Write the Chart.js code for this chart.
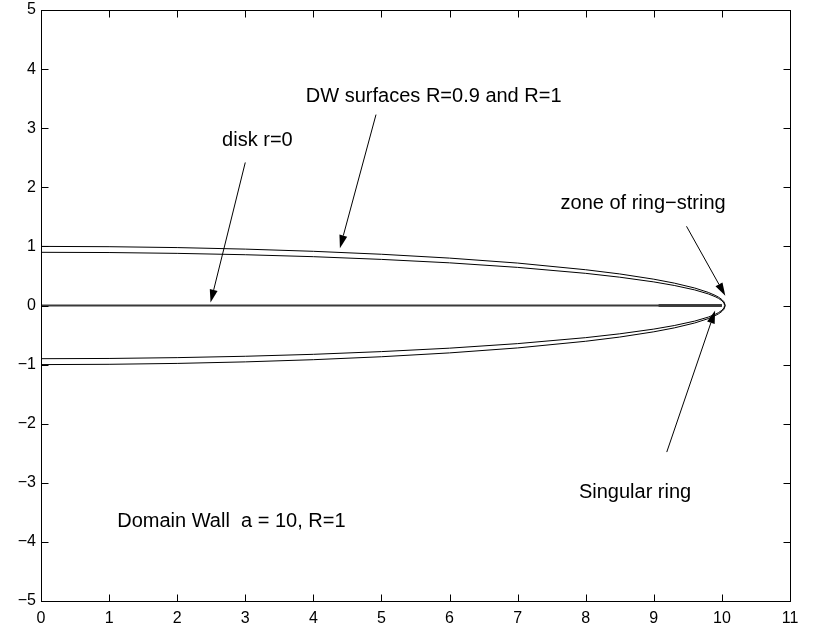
<!DOCTYPE html>
<html>
<head>
<meta charset="utf-8">
<script src="https://cdn.jsdelivr.net/npm/chart.js@4/dist/chart.umd.min.js"></script>
<style>
    html, body { margin: 0; padding: 0; background: #fff; }
    canvas { display: block; }
</style>
</head>
<body>
<canvas id="chart" width="818" height="626"></canvas>
<script>
// surface R=1
const surfaceX1 = [0, 1, 2, 3, 4, 5, 6, 7, 8, 8.5, 9, 9.3, 9.6, 9.8, 9.9, 9.95, 10.0, 10.03, 10.05];
const r1Upper = [1.0, 0.995, 0.98, 0.954, 0.917, 0.867, 0.802, 0.718, 0.605, 0.534, 0.445, 0.379, 0.296, 0.222, 0.172, 0.141, 0.1, 0.063, 0];
const r1Lower = [-1.0, -0.995, -0.98, -0.954, -0.917, -0.867, -0.802, -0.718, -0.605, -0.534, -0.445, -0.379, -0.296, -0.222, -0.172, -0.141, -0.1, -0.063, 0];

// surface R=0.9
const surfaceX09 = [0, 1, 2, 3, 4, 5, 6, 7, 8, 8.5, 9, 9.3, 9.6, 9.8, 9.9, 9.95, 10.0, 10.03, 10.04];
const r09Upper = [0.9, 0.896, 0.882, 0.859, 0.826, 0.78, 0.722, 0.645, 0.544, 0.479, 0.399, 0.339, 0.264, 0.196, 0.15, 0.121, 0.081, 0.041, 0];
const r09Lower = [-0.9, -0.896, -0.882, -0.859, -0.826, -0.78, -0.722, -0.645, -0.544, -0.479, -0.399, -0.339, -0.264, -0.196, -0.15, -0.121, -0.081, -0.041, 0];

// disk r=0 and the singular ring zone
const diskX = [0, 10];
const diskY = [0, 0];
const ringX = [9.07, 10];
const ringY = [0, 0];

// axis ticks
const xTicks = [0, 1, 2, 3, 4, 5, 6, 7, 8, 9, 10, 11];
const yTicks = [-5, -4, -3, -2, -1, 0, 1, 2, 3, 4, 5];

// annotations (data units)
const labelTexts = ["DW surfaces R=0.9 and R=1", "disk r=0", "zone of ring\u2212string", "Singular ring", "Domain Wall  a = 10, R=1"];
const labelX = [3.89, 2.66, 7.63, 7.9, 1.12];
const labelY = [3.54, 2.79, 1.72, -3.17, -3.66];

const arrowFromX = [4.92, 3.0, 9.48, 9.19];
const arrowFromY = [3.23, 2.42, 1.34, -2.48];
const arrowToX = [4.39, 2.49, 10.05, 9.9];
const arrowToY = [0.97, 0.05, 0.165, -0.085];

function toPoints(xs, ys) {
    return xs.map((x, i) => ({ x: x, y: ys[i] }));
}

function lineSet(xs, ys, width, color) {
    return {
        data: toPoints(xs, ys),
        showLine: true,
        borderColor: color,
        borderWidth: width,
        pointRadius: 0,
        tension: 0,
        fill: false
    };
}

const frameAndNotes = {
    id: "frameAndNotes",
    afterDatasetsDraw(chart) {
        const { ctx, chartArea, scales } = chart;
        const xs = scales.x, ys = scales.y;
        const L = Math.round(chartArea.left) + 0.5;
        const R = Math.round(chartArea.right) + 0.5;
        const T = Math.round(chartArea.top) + 0.5;
        const B = Math.round(chartArea.bottom) + 0.5;
        const tick = 7;

        ctx.save();
        ctx.strokeStyle = "#000";
        ctx.lineWidth = 1;
        ctx.strokeRect(L, T, R - L, B - T);

        ctx.beginPath();
        xTicks.forEach(v => {
            const px = Math.round(xs.getPixelForValue(v)) + 0.5;
            ctx.moveTo(px, B); ctx.lineTo(px, B - tick);
            ctx.moveTo(px, T); ctx.lineTo(px, T + tick);
        });
        yTicks.forEach(v => {
            const py = Math.round(ys.getPixelForValue(v)) + 0.5;
            ctx.moveTo(L, py); ctx.lineTo(L + tick, py);
            ctx.moveTo(R, py); ctx.lineTo(R - tick, py);
        });
        ctx.stroke();

        // arrows
        ctx.fillStyle = "#000";
        arrowFromX.forEach((fx, i) => {
            const x0 = xs.getPixelForValue(fx), y0 = ys.getPixelForValue(arrowFromY[i]);
            const x1 = xs.getPixelForValue(arrowToX[i]), y1 = ys.getPixelForValue(arrowToY[i]);
            const ang = Math.atan2(y1 - y0, x1 - x0);
            const head = 13, half = 4;
            const bx = x1 - head * Math.cos(ang), by = y1 - head * Math.sin(ang);
            ctx.beginPath();
            ctx.moveTo(x0, y0);
            ctx.lineTo(bx, by);
            ctx.stroke();
            ctx.beginPath();
            ctx.moveTo(x1, y1);
            ctx.lineTo(bx + half * Math.sin(ang), by - half * Math.cos(ang));
            ctx.lineTo(bx - half * Math.sin(ang), by + half * Math.cos(ang));
            ctx.closePath();
            ctx.fill();
        });

        // text labels
        ctx.font = "20px 'Liberation Sans', Arial, sans-serif";
        ctx.textAlign = "left";
        ctx.textBaseline = "middle";
        labelTexts.forEach((t, i) => {
            ctx.fillText(t, xs.getPixelForValue(labelX[i]), ys.getPixelForValue(labelY[i]));
        });
        ctx.restore();
    }
};

const tickFont = { family: "'Liberation Sans', Arial, sans-serif", size: 16 };
const minusSign = v => String(v).replace("-", "\u2212");

new Chart(document.getElementById("chart"), {
    type: "scatter",
    data: {
        datasets: [
            lineSet(surfaceX1, r1Upper, 1, "#000"),
            lineSet(surfaceX1, r1Lower, 1, "#000"),
            lineSet(surfaceX09, r09Upper, 1, "#000"),
            lineSet(surfaceX09, r09Lower, 1, "#000"),
            lineSet(diskX, diskY, 2, "#3a3a3a"),
            lineSet(ringX, ringY, 2.5, "#000")
        ]
    },
    options: {
        responsive: false,
        animation: false,
        devicePixelRatio: 1,
        layout: { padding: { left: 0, right: 28, top: 10, bottom: 0 } },
        plugins: { legend: { display: false }, tooltip: { enabled: false } },
        scales: {
            x: {
                type: "linear",
                min: 0,
                max: 11,
                afterBuildTicks: s => { s.ticks = xTicks.map(v => ({ value: v })); },
                afterFit: s => { s.height = 25; s.paddingLeft = 0; s.paddingRight = 0; },
                grid: { display: false, drawTicks: false },
                border: { display: false },
                ticks: { font: tickFont, color: "#000", padding: 8, maxRotation: 0, autoSkip: false, callback: minusSign }
            },
            y: {
                type: "linear",
                min: -5,
                max: 5,
                afterBuildTicks: s => { s.ticks = yTicks.map(v => ({ value: v })); },
                afterFit: s => { s.width = 41; s.paddingTop = 0; s.paddingBottom = 0; },
                grid: { display: false, drawTicks: false },
                border: { display: false },
                ticks: { font: tickFont, color: "#000", padding: 5, autoSkip: false, callback: minusSign }
            }
        }
    },
    plugins: [frameAndNotes]
});
</script>
</body>
</html>
